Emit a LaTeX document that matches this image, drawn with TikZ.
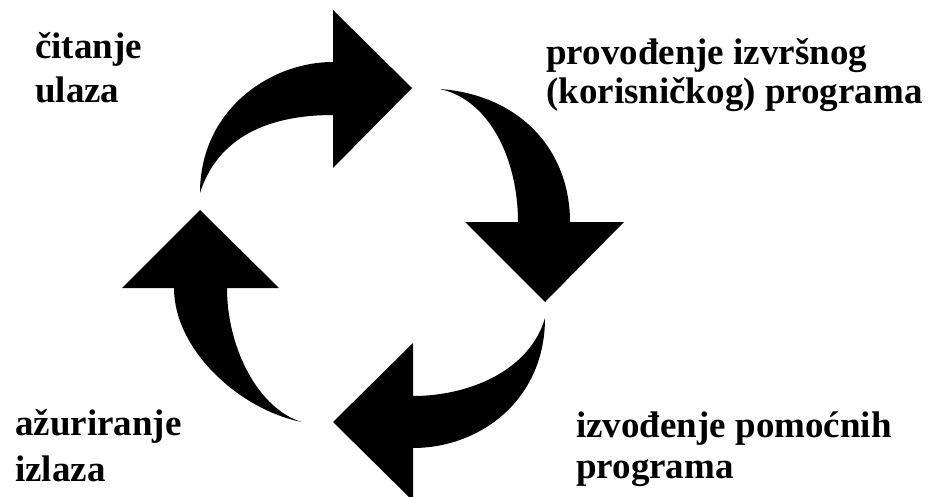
\documentclass[tikz,border=0pt]{standalone}
\usepackage{fontspec}
\setmainfont{Liberation Serif}
\begin{document}
\begin{tikzpicture}[x=1pt,y=-1pt,
  lbl/.style={anchor=base west,inner sep=0pt,align=left},
  arr/.style={fill=black,draw=none}]
\useasboundingbox (0,0) rectangle (933,497);
% labels (anchored at the baseline of their last line)
\node[lbl,font=\fontsize{37}{44}\selectfont\bfseries] (l1) at (35,103) {čitanje\\ulaza};
\node[lbl,font=\fontsize{37}{39}\selectfont\bfseries] (l2) at (546,104) {provođenje izvršnog\\(korisničkog) programa};
\node[lbl,font=\fontsize{37}{46}\selectfont\bfseries] (l3) at (15,481) {ažuriranje\\izlaza};
\node[lbl,font=\fontsize{37}{41}\selectfont\bfseries] (l4) at (576,478) {izvođenje pomoćnih\\programa};
% top arrow (pointing right)
\coordinate (t1) at (200,193);
\fill[arr] (t1) .. controls (200,110) and (270,62) .. (333,62)
  -- (333,10) -- (412,88) -- (333,168) -- (333,115)
  .. controls (280,115) and (220,130) .. (t1) -- cycle;
% right arrow (pointing down)
\coordinate (t2) at (440,89);
\fill[arr] (t2) .. controls (520,95) and (570,150) .. (570,222)
  -- (624,222) -- (545,302) -- (465,222) -- (518,222)
  .. controls (518,160) and (490,100) .. (t2) -- cycle;
% bottom arrow (pointing left)
\coordinate (t3) at (545,318);
\fill[arr] (t3) .. controls (545,400) and (480,448) .. (413,448)
  -- (413,501) -- (333,422) -- (413,343) -- (413,396)
  .. controls (470,396) and (530,370) .. (t3) -- cycle;
% left arrow (pointing up)
\coordinate (t4) at (302,422);
\fill[arr] (t4) .. controls (240,410) and (174,350) .. (174,288)
  -- (122,288) -- (200,210) -- (279,288) -- (227,288)
  .. controls (227,350) and (260,410) .. (t4) -- cycle;
\end{tikzpicture}
\end{document}
